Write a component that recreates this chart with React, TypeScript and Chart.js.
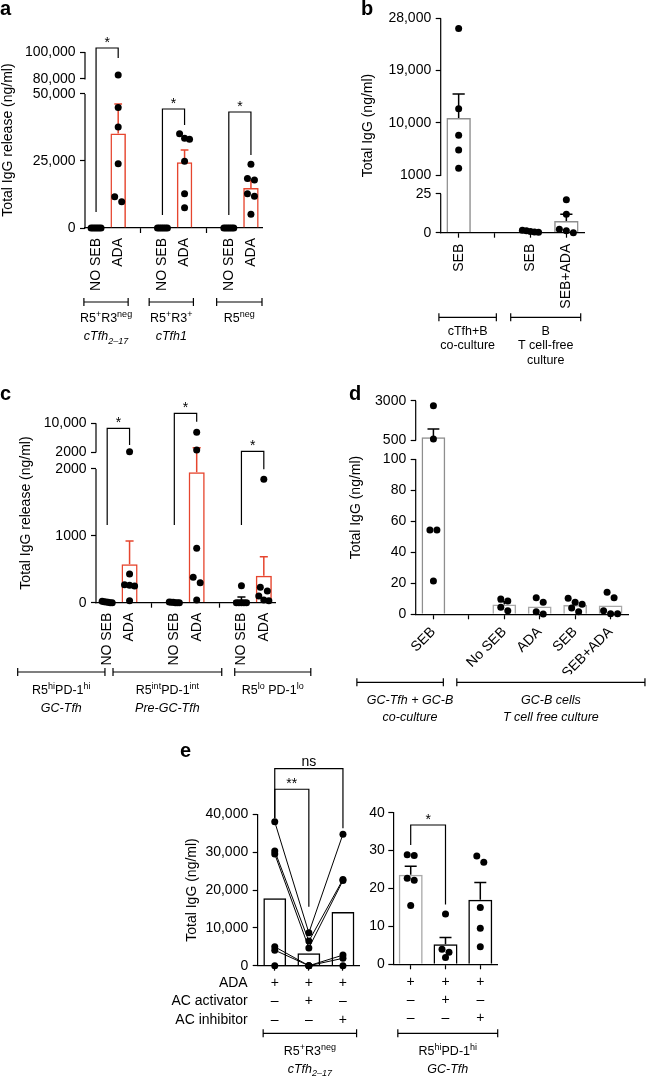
import React, { useEffect, useRef } from 'react';
import { Chart, registerables, LinearScale } from 'chart.js';

Chart.register(...registerables);

const FONT = '"Liberation Sans", Arial, Helvetica, sans-serif';
Chart.defaults.font.family = FONT;
Chart.defaults.font.size = 14;
Chart.defaults.color = '#000';

const RED = '#e6452e';
const GRAY = '#8e8e8e';
const LIGHTGRAY = '#a8a8a8';

// ---------------- Panel a ----------------
const aCategories = ['NO SEB', 'ADA', '', 'NO SEB', 'ADA', '', 'NO SEB', 'ADA'];
const aMeans = [0, 35300, null, 0, 24500, null, 0, 14950];
const aSem = [null, 10970, null, null, 4600, null, null, 2700];
const aPoints = [
  [0, 0, 0, 0, 0, 0],
  [83000, 45000, 37700, 24000, 9800, 11700],
  [],
  [0, 0, 0, 0, 0, 0],
  [33500, 33100, 35200, 24900, 12800, 7600],
  [],
  [0, 0, 0, 0, 0, 0],
  [23800, 17900, 18500, 12800, 11800, 5100],
];
const aTicks = [0, 25000, 50000, 80000, 100000];
const aTickLabels = ['0', '25,000', '50,000', '80,000', '100,000'];
const aGroupLabels = [['R5^{+}R3^{neg}', 'cTfh_{2–17}'], ['R5^{+}R3^{+}', 'cTfh1'], ['R5^{neg}']];

// ---------------- Panel b ----------------
const bCategories = ['SEB', '', 'SEB', 'SEB+ADA'];
const bMeans = [10860, null, 0.8, 7.5];
const bSem = [4120, null, null, 4.3];
const bPoints = [[26250, 12460, 7870, 5360, 2200], [], [1.5, 1.2, 0.8, 0.5, 0.3], [21.2, 11.8, 2.2, 1.3, 0]];
const bTicks = [0, 25, 1000, 10000, 19000, 28000];
const bTickLabels = ['0', '25', '1000', '10,000', '19,000', '28,000'];
const bGroupLabels = [['cTfh+B', 'co-culture'], ['B', 'T cell-free', 'culture']];

// ---------------- Panel c ----------------
const cCategories = ['NO SEB', 'ADA', '', 'NO SEB', 'ADA', '', 'NO SEB', 'ADA'];
const cMeans = [8, 575, null, 3, 1950, null, 42, 404];
const cSem = [null, 349, null, null, 1250, null, 43, 285];
const cPoints = [
  [10, 0, 20, 5, 0, 15],
  [2100, 430, 260, 270, 250, 30],
  [],
  [0, 5, 0, 10, 0, 5],
  [7500, 2550, 814, 380, 300, 40],
  [],
  [255, 0, 0, 0, 0, 0],
  [1847, 230, 175, 100, 30, 40],
];
const cTicks = [0, 1000, 2000, 2000, 10000];
const cTickLabels = ['0', '1000', '2000', '2000', '10,000'];
const cGroupLabels = [['R5^{hi}PD-1^{hi}', 'GC-Tfh'], ['R5^{int}PD-1^{int}', 'Pre-GC-Tfh'], ['R5^{lo} PD-1^{lo}']];

// ---------------- Panel d ----------------
const dCategories = ['SEB', '', 'No SEB', 'ADA', 'SEB', 'SEB+ADA'];
const dMeans = [675, null, 6.3, 5.1, 6.0, 5.6];
const dSem = [525, null, 1.8, null, null, null];
const dPoints = [
  [2680, 564, 54.3, 54.3, 21.4],
  [],
  [8.6, 9.9, 4.5, 2.3],
  [10.7, 7.7, 1.7, 0.2],
  [10.3, 6.4, 7.7, 4.1, 1.7],
  [14.2, 10.7, 2.3, 0.4, 0.4],
];
const dTicks = [0, 20, 40, 60, 80, 100, 500, 3000];
const dTickLabels = ['0', '20', '40', '60', '80', '100', '500', '3000'];
const dGroupLabels = [['GC-Tfh + GC-B', 'co-culture'], ['GC-B cells', 'T cell free culture']];

// ---------------- Panel e ----------------
const eRowNames = ['ADA', 'AC activator', 'AC inhibitor'];
const eADA = ['+', '+', '+'];
const eActivator = ['–', '+', '–'];
const eInhibitor = ['–', '–', '+'];
const eLeftMeans = [17800, 3300, 14200];
const eLeftDonors = [
  [38000, 8700, 34750],
  [30300, 6500, 22800],
  [29500, 4700, 22500],
  [5000, 0, 2800],
  [4100, 0, 1950],
  [0, 0, 0],
];
const eLeftTickLabels = ['0', '10,000', '20,000', '30,000', '40,000'];
const eRightMeans = [23.6, 5.3, 17.0];
const eRightSem = [2.3, 1.8, 4.6];
const eRightPoints = [[28.7, 28.9, 22.7, 22.2, 15.5], [13.3, 4.0, 3.2, 1.8], [28.6, 26.9, 15.0, 9.5, 4.6]];
const eRightTickLabels = ['0', '10', '20', '30', '40'];
const eLeftGroup = ['R5^{+}R3^{neg}', 'cTfh_{2–17}'];
const eRightGroup = ['R5^{hi}PD-1^{hi}', 'GC-Tfh'];

// ---------------- broken axis scale ----------------
type Seg = { from: number; to: number; d0: number; d1: number };

function makeBrokenScale(scaleId: string, segs: Seg[], tickVals: number[]) {
  const tickSegs: number[] = [];
  let s = 0;
  tickVals.forEach((v, k) => {
    if (k > 0 && v === tickVals[k - 1]) s++;
    while (s < segs.length - 1 && v > segs[s].to) s++;
    tickSegs.push(s);
  });
  const dec = (v: number, i: number) => {
    const g = segs[i];
    return g.d0 + ((v - g.from) / (g.to - g.from)) * (g.d1 - g.d0);
  };
  const decOf = (v: number) => {
    for (let i = 0; i < segs.length; i++) {
      const g = segs[i];
      if (v <= g.to) {
        if (v >= g.from || i === 0) return dec(v, i);
        const p = segs[i - 1];
        return p.d1 + ((v - p.to) / (g.from - p.to)) * (g.d0 - p.d1);
      }
    }
    return dec(v, segs.length - 1);
  };
  class BrokenScale extends (LinearScale as any) {
    static id = scaleId;
    buildTicks() {
      return tickVals.map((v) => ({ value: v }));
    }
    getPixelForValue(v: number) {
      if (v === null || v === undefined || isNaN(v)) return NaN;
      return this.getPixelForDecimal(decOf(v));
    }
    getPixelForTick(i: number) {
      const t = this.ticks[i];
      if (!t) return NaN;
      return this.getPixelForDecimal(dec(t.value, tickSegs[i]));
    }
    segmentPixels() {
      return segs.map((g) => [this.getPixelForDecimal(g.d0), this.getPixelForDecimal(g.d1)]);
    }
  }
  return BrokenScale;
}

const aScale = makeBrokenScale('brokenA', [
  { from: 0, to: 50000, d0: 0, d1: 0.7614 },
  { from: 80000, to: 100000, d0: 0.8466, d1: 1 },
], aTicks);
const bScale = makeBrokenScale('brokenB', [
  { from: 0, to: 25, d0: 0, d1: 0.1819 },
  { from: 1000, to: 28000, d0: 0.2677, d1: 1 },
], bTicks);
const cScale = makeBrokenScale('brokenC', [
  { from: 0, to: 2000, d0: 0, d1: 0.7453 },
  { from: 2000, to: 10000, d0: 0.84, d1: 1 },
], cTicks);
const dScale = makeBrokenScale('brokenD', [
  { from: 0, to: 100, d0: 0, d1: 0.727 },
  { from: 500, to: 3000, d0: 0.816, d1: 1 },
], dTicks);
Chart.register(aScale as any, bScale as any, cScale as any, dScale as any);

// ---------------- rich text ----------------
function parseRich(s: string) {
  const runs: { t: string; k: string }[] = [];
  const re = /\^\{([^}]*)\}|_\{([^}]*)\}|([^^_]+)/g;
  let m: any;
  while ((m = re.exec(s))) {
    if (m[1] != null) runs.push({ t: m[1], k: 'sup' });
    else if (m[2] != null) runs.push({ t: m[2], k: 'sub' });
    else runs.push({ t: m[3], k: '' });
  }
  return runs;
}
function drawRich(ctx: CanvasRenderingContext2D, s: string, cx: number, y: number, size: number, italic: boolean) {
  const runs = parseRich(s);
  const f = (r: { k: string }) => `${italic ? 'italic ' : ''}${r.k ? size * 0.72 : size}px ${FONT}`;
  let w = 0;
  for (const r of runs) {
    ctx.font = f(r);
    w += ctx.measureText(r.t).width;
  }
  let x = cx - w / 2;
  ctx.textAlign = 'left';
  ctx.textBaseline = 'alphabetic';
  for (const r of runs) {
    ctx.font = f(r);
    const dy = r.k === 'sup' ? -size * 0.4 : r.k === 'sub' ? size * 0.28 : 0;
    ctx.fillText(r.t, x, y + dy);
    x += ctx.measureText(r.t).width;
  }
}

// ---------------- panel specs ----------------
const redIfADA = (cats: string[]) => (i: number) => (cats[i] === 'ADA' ? RED : '#000');

const panels: any[] = [
  {
    letter: { t: 'a', x: 0, y: 15 },
    area: { L: 85, R: 262, T: 52, B: 228 }, Hx: 80, titleX: 8.4, yTitle: 'Total IgG release (ng/ml)',
    labels: aCategories, rot: 90, xPad: 5, hideLabeledTicks: true,
    means: aMeans, sems: aSem, points: aPoints,
    barColor: redIfADA(aCategories), errColor: redIfADA(aCategories), barPct: 0.7,
    y: { kind: 'broken', id: 'brokenA', max: 100000, labels: aTickLabels },
    sig: [
      { i0: 0, i1: 1, top: 102960, l: 6000, r: 95550, t: '*' },
      { i0: 3, i1: 4, top: 44400, l: 4850, r: 38430, t: '*' },
      { i0: 6, i1: 7, top: 43280, l: 4850, r: 27240, t: '*' },
    ],
    groups: {
      y: 302, baselines: [321.5, 340], italic: [false, true],
      items: [
        { a: -0.55, b: 1.45, lines: aGroupLabels[0] },
        { a: 2.4, b: 4.4, lines: aGroupLabels[1] },
        { a: 5.45, b: 7.5, lines: aGroupLabels[2] },
      ],
    },
  },
  {
    letter: { t: 'b', x: 361, y: 15 },
    area: { L: 440.7, R: 584.3, T: 18.3, B: 232.7 }, Hx: 80, titleX: 368, yTitle: 'Total IgG (ng/ml)',
    labels: bCategories, rot: 90, xPad: 6, hideLabeledTicks: false,
    means: bMeans, sems: bSem, points: bPoints,
    barColor: () => GRAY, errColor: () => '#000', barPct: 0.68,
    y: { kind: 'broken', id: 'brokenB', max: 28000, labels: bTickLabels },
    sig: [],
    groups: {
      y: 317.3, baselines: [334.5, 349, 364], italic: [false, false, false],
      items: [
        { a: -0.55, b: 1.05, lines: bGroupLabels[0] },
        { a: 1.45, b: 3.4, lines: bGroupLabels[1] },
      ],
    },
  },
  {
    letter: { t: 'c', x: 0, y: 399.5 },
    area: { L: 96, R: 275, T: 423.3, B: 602.7 }, Hx: 80, titleX: 26, yTitle: 'Total IgG release (ng/ml)',
    labels: cCategories, rot: 90, xPad: 5, hideLabeledTicks: true,
    means: cMeans, sems: cSem, points: cPoints,
    barColor: redIfADA(cCategories), errColor: redIfADA(cCategories), barPct: 0.72,
    y: { kind: 'broken', id: 'brokenC', max: 10000, labels: cTickLabels },
    sig: [
      { i0: 0, i1: 1, top: 8606, l: 1163, r: 3951, t: '*' },
      { i0: 3, i1: 4, top: 12787, l: 1163, r: 10446, t: '*' },
      { i0: 6, i1: 7, top: 2195, l: 1163, r: 1997, t: '*' },
    ],
    groups: {
      y: 672, baselines: [693.5, 711.5], italic: [false, true],
      items: [
        { a: -4.0, b: -0.1, lines: cGroupLabels[0] },
        { a: 0.26, b: 5.12, lines: cGroupLabels[1] },
        { a: 5.7, b: 9.1, lines: cGroupLabels[2] },
      ],
    },
  },
  {
    letter: { t: 'd', x: 349, y: 399.5 },
    area: { L: 415.7, R: 628.3, T: 400.7, B: 614.3 }, Hx: 60, titleX: 355.8, yTitle: 'Total IgG (ng/ml)',
    labels: dCategories, rot: 45, xPad: 4, hideLabeledTicks: false,
    means: dMeans, sems: dSem, points: dPoints,
    barColor: (i: number) => (i === 0 ? GRAY : LIGHTGRAY), errColor: () => '#000', barPct: 0.67,
    y: { kind: 'broken', id: 'brokenD', max: 3000, labels: dTickLabels },
    sig: [],
    groups: {
      y: 682.3, baselines: [703.8, 720.5], italic: [true, true],
      items: [
        { a: -2.16, b: 0.28, c: -0.66, lines: dGroupLabels[0] },
        { a: 0.66, b: 5.97, lines: dGroupLabels[1] },
      ],
    },
  },
  {
    letter: { t: 'e', x: 180, y: 757 },
    area: { L: 257.7, R: 360, T: 814.3, B: 965.7 }, Hx: 65, titleX: 192, yTitle: 'Total IgG (ng/ml)',
    labels: eADA.map((v, i) => [v, eActivator[i], eInhibitor[i]]), rot: 0, xPad: 3.5, hideLabeledTicks: false,
    rowNames: eRowNames, rowX: 247.7,
    means: eLeftMeans, sems: [null, null, null], points: [], lines: eLeftDonors,
    barColor: () => '#000', errColor: () => '#000', barPct: 0.67,
    y: { kind: 'linear', max: 40000, step: 10000, labels: eLeftTickLabels },
    sig: [
      { i0: 0, i1: 1, top: 46620, l: 38970, r: 15570, t: '**' },
      { i0: 0, i1: 2, top: 52080, l: 38970, r: 36330, t: 'ns' },
    ],
    groups: {
      y: 1033.3, baselines: [1054.5, 1072.5], italic: [false, true],
      items: [{ a: -0.34, b: 2.4, lines: eLeftGroup }],
    },
  },
  {
    area: { L: 393.3, R: 497.7, T: 812.7, B: 964.3 }, Hx: 65, yPad: 3.5,
    labels: eADA.map((v, i) => [v, eActivator[i], eInhibitor[i]]), rot: 0, xPad: 3.5, hideLabeledTicks: false,
    means: eRightMeans, sems: eRightSem, points: eRightPoints,
    barColor: (i: number) => (i === 0 ? LIGHTGRAY : '#000'), errColor: () => '#000', barPct: 0.69,
    y: { kind: 'linear', max: 40, step: 10, labels: eRightTickLabels },
    sig: [{ i0: 0, i1: 1, top: 36.75, l: 31.5, r: 15.8, t: '*' }],
    groups: {
      y: 1033.3, baselines: [1054.5, 1072.5], italic: [false, true],
      items: [{ a: -0.37, b: 2.5, lines: eRightGroup }],
    },
  },
];

const LINE_W = 1.2;

function buildConfig(P: any) {
  const n = P.labels.length;
  const { L, R, T, B } = P.area;
  const PL = P.titleX != null ? P.titleX - 8.4 : L - 45;
  const Wy = L - PL;
  const datasets: any[] = [];
  const swarm: number[] = [];
  (P.points || []).forEach((vals: number[], i: number) => {
    if (!vals.length) return;
    swarm.push(datasets.length);
    datasets.push({
      type: 'scatter', xAxisID: 'xs', yAxisID: 'y',
      data: vals.map((v) => ({ x: i, y: v })),
      pointRadius: 3.5, pointHoverRadius: 3.5, pointBackgroundColor: '#000', pointBorderWidth: 0,
      borderWidth: 0, clip: false, order: 0,
    });
  });
  (P.lines || []).forEach((vals: number[]) => {
    datasets.push({
      type: 'line', xAxisID: 'xs', yAxisID: 'y',
      data: vals.map((v, i) => ({ x: i, y: v })),
      borderColor: '#000', borderWidth: 1, pointRadius: 3.5, pointHoverRadius: 3.5,
      pointBackgroundColor: '#000', pointBorderWidth: 0, tension: 0, fill: false, clip: false, order: 0,
    });
  });
  datasets.push({
    type: 'bar', xAxisID: 'x', yAxisID: 'y', data: P.means, grouped: false,
    backgroundColor: 'rgba(0,0,0,0)', borderColor: P.means.map((_: any, i: number) => P.barColor(i)),
    borderWidth: 1.5, barPercentage: P.barPct, categoryPercentage: 1, order: 2,
  });

  const broken = P.y.kind === 'broken';
  const yCfg: any = {
    type: broken ? P.y.id : 'linear',
    position: 'left', min: 0, max: P.y.max,
    ticks: {
      autoSkip: false, padding: P.yPad ?? 4.5, color: '#000', font: { size: 14 },
      callback: (_v: any, i: number) => P.y.labels[i],
      ...(broken ? {} : { stepSize: P.y.step }),
    },
    grid: { display: true, drawOnChartArea: false, drawTicks: true, tickLength: 5, tickWidth: LINE_W, tickColor: '#000', color: '#000' },
    border: { display: !broken, color: '#000', width: LINE_W },
    title: { display: !!P.yTitle, text: P.yTitle || '', padding: 0, color: '#000', font: { size: 14 } },
    afterFit: (s: any) => { s.width = Wy; s.paddingTop = 0; s.paddingBottom = 0; },
  };

  const plugin = {
    id: 'deco',
    afterDatasetsUpdate(chart: any) {
      const xs = chart.scales.xs;
      const catW = (xs.right - xs.left) / n;
      swarm.forEach((di) => {
        const meta = chart.getDatasetMeta(di);
        const sorted = [...meta.data].sort((p: any, q: any) => p.y - q.y);
        const bins: any[][] = [];
        sorted.forEach((e: any) => {
          const last = bins[bins.length - 1];
          if (last && e.y - last[0].y < 7) last.push(e);
          else bins.push([e]);
        });
        bins.forEach((bin) => {
          const m = bin.length;
          if (m < 2) return;
          const sp = Math.min(7, (0.45 * catW) / (m - 1));
          bin.forEach((e: any, k: number) => { e.x += (k - (m - 1) / 2) * sp; });
        });
      });
    },
    beforeDatasetsDraw(chart: any) {
      const ctx = chart.ctx;
      const x = chart.scales.x, y = chart.scales.y;
      const catW = (x.right - x.left) / n;
      const cap = 0.25 * catW * P.barPct;
      ctx.save();
      ctx.lineWidth = 1.5;
      P.means.forEach((m: number | null, i: number) => {
        const s = P.sems[i];
        if (m == null || s == null) return;
        const px = x.getPixelForValue(i);
        const y0 = y.getPixelForValue(m), y1 = y.getPixelForValue(m + s);
        ctx.strokeStyle = P.errColor(i);
        ctx.beginPath();
        ctx.moveTo(px, y0); ctx.lineTo(px, y1);
        ctx.moveTo(px - cap, y1); ctx.lineTo(px + cap, y1);
        ctx.stroke();
      });
      ctx.restore();
    },
    afterDraw(chart: any) {
      const ctx = chart.ctx;
      const xs = chart.scales.xs, y = chart.scales.y, x = chart.scales.x;
      ctx.save();
      ctx.strokeStyle = '#000';
      ctx.fillStyle = '#000';
      ctx.lineWidth = LINE_W;
      if (broken && y.segmentPixels) {
        const ax = y.right;
        y.segmentPixels().forEach(([p0, p1]: number[]) => {
          ctx.beginPath(); ctx.moveTo(ax, p0 + 0.6); ctx.lineTo(ax, p1); ctx.stroke();
        });
      }
      P.sig.forEach((b: any) => {
        const xa = xs.getPixelForValue(b.i0), xb = xs.getPixelForValue(b.i1);
        const yt = y.getPixelForValue(b.top), yl = y.getPixelForValue(b.l), yr = y.getPixelForValue(b.r);
        ctx.beginPath();
        ctx.moveTo(xa, yl); ctx.lineTo(xa, yt); ctx.lineTo(xb, yt); ctx.lineTo(xb, yr);
        ctx.stroke();
        ctx.font = `14px ${FONT}`;
        ctx.textAlign = 'center';
        ctx.textBaseline = 'alphabetic';
        ctx.fillText(b.t, (xa + xb) / 2, yt - (b.t === 'ns' ? 3 : 1));
      });
      const G = P.groups;
      if (G) {
        G.items.forEach((g: any) => {
          const xa = xs.getPixelForValue(g.a), xb = xs.getPixelForValue(g.b);
          const cx = g.c != null ? xs.getPixelForValue(g.c) : (xa + xb) / 2;
          ctx.beginPath();
          ctx.moveTo(xa, G.y); ctx.lineTo(xb, G.y);
          ctx.moveTo(xa, G.y - 4); ctx.lineTo(xa, G.y + 4);
          ctx.moveTo(xb, G.y - 4); ctx.lineTo(xb, G.y + 4);
          ctx.stroke();
          g.lines.forEach((ln: string, k: number) => {
            drawRich(ctx, ln, cx, G.baselines[k], 12.5, !!G.italic[k]);
          });
        });
      }
      if (P.rowNames) {
        ctx.font = `14px ${FONT}`;
        ctx.textAlign = 'right';
        ctx.textBaseline = 'middle';
        const lh = 14 * 1.3;
        P.rowNames.forEach((t: string, k: number) => {
          ctx.fillText(t, P.rowX, x.top + 5 + P.xPad + (k + 0.5) * lh);
        });
      }
      if (P.letter) {
        ctx.font = `bold 20px ${FONT}`;
        ctx.textAlign = 'left';
        ctx.textBaseline = 'alphabetic';
        ctx.fillText(P.letter.t, P.letter.x, P.letter.y);
      }
      ctx.restore();
    },
  };

  return {
    type: 'bar',
    data: { labels: P.labels, datasets },
    options: {
      responsive: false, animation: false, devicePixelRatio: 1, events: [],
      layout: { padding: { left: PL, right: 649 - R, top: T, bottom: 1076 - B - P.Hx } },
      plugins: { legend: { display: false }, tooltip: { enabled: false }, title: { display: false } },
      scales: {
        x: {
          type: 'category', position: 'bottom', offset: true,
          grid: {
            display: true, offset: false, drawOnChartArea: false, drawTicks: true, tickLength: 5,
            tickWidth: LINE_W, color: '#000',
            tickColor: (c: any) => (P.hideLabeledTicks && P.labels[c.index] ? 'rgba(0,0,0,0)' : '#000'),
          },
          border: { display: true, color: '#000', width: LINE_W },
          ticks: {
            autoSkip: false, minRotation: P.rot, maxRotation: P.rot, padding: P.xPad, color: '#000',
            font: { size: 14, lineHeight: 1.3 },
          },
          afterFit: (s: any) => { s.height = P.Hx; s.paddingLeft = 0; s.paddingRight = 0; },
        },
        xs: {
          type: 'linear', display: false, offset: false, min: -0.5, max: n - 0.5, bounds: 'data',
          grid: { offset: false },
        },
        y: yCfg,
      },
    },
    plugins: [plugin],
  };
}

export default function App() {
  const refs = useRef<(HTMLCanvasElement | null)[]>([]);
  useEffect(() => {
    document.body.style.margin = '0';
    const charts = panels.map((P, i) => new Chart(refs.current[i] as HTMLCanvasElement, buildConfig(P) as any));
    return () => charts.forEach((c) => c.destroy());
  }, []);
  return (
    <div style={{ position: 'relative', width: 649, height: 1076, background: '#fff', overflow: 'hidden' }}>
      {panels.map((_, i) => (
        <canvas
          key={i}
          ref={(el) => { refs.current[i] = el; }}
          width={649}
          height={1076}
          style={{ position: 'absolute', left: 0, top: 0, width: 649, height: 1076 }}
        />
      ))}
    </div>
  );
}
